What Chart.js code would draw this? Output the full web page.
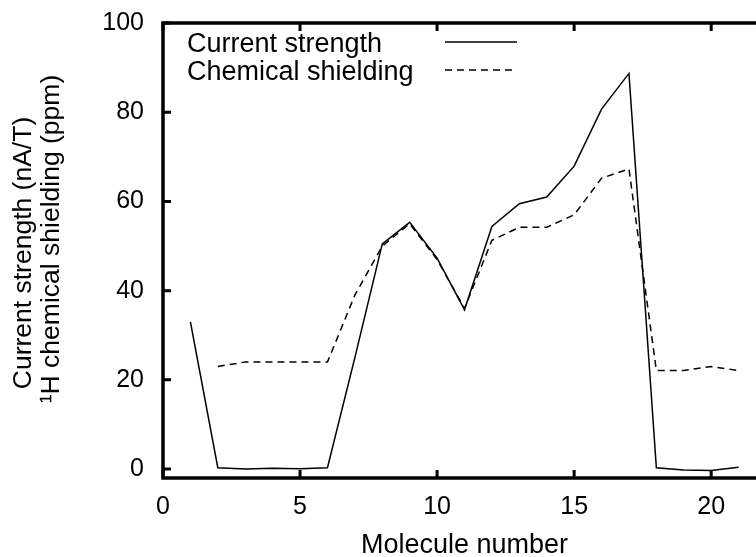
<!DOCTYPE html>
<html>
<head>
<meta charset="utf-8">
<script src="https://cdn.jsdelivr.net/npm/chart.js@4"></script>
<style>
  html, body { margin: 0; padding: 0; background: #fff; overflow: hidden; }
  #wrap { width: 776px; height: 557px; position: relative; }
</style>
</head>
<body>
<div id="wrap"><canvas id="chart"></canvas></div>
<script>
/* valores */
const molecules = [1, 2, 3, 4, 5, 6, 7, 8, 9, 10, 11, 12, 13, 14, 15, 16, 17, 18, 19, 20, 21];
const currentStrength = [33, 0.3, 0, 0.2, 0.05, 0.3, 25, 50.5, 55.3, 47.3, 35.7, 54.4, 59.5, 61, 67.9, 80.7, 88.7, 0.3, -0.2, -0.3, 0.4];
const chemShielding   = [null, 23, 24, 24, 24, 24, 39, 50, 55, 47, 36, 51.3, 54.2, 54.2, 57, 65.2, 67.3, 22.1, 22.1, 23, 22.1];
const seriesLabels = ['Current strength', 'Chemical shielding'];
const xTicks = [0, 5, 10, 15, 20];
const yTicks = [0, 20, 40, 60, 80, 100];
const yTitle = ['Current strength (nA/T)', '\u00B9H chemical shielding (ppm)'];
const xTitle = 'Molecule number';

const FONT = 'Liberation Sans, Arial, Helvetica, sans-serif';
const TICK = 8;

const toPts = arr => molecules.map((m, i) => ({ x: m, y: arr[i] }));

/* moldura estilo gnuplot, ticks para dentro, legenda e título y */
const gnuplotFrame = {
  id: 'gnuplotFrame',
  afterDraw(chart) {
    const { ctx, chartArea: a, scales: { x, y } } = chart;
    ctx.save();
    ctx.strokeStyle = '#000';
    ctx.lineWidth = 3;
    x.ticks.forEach(t => {
      const px = x.getPixelForValue(t.value);
      ctx.beginPath();
      ctx.moveTo(px, a.bottom); ctx.lineTo(px, a.bottom - TICK);
      ctx.moveTo(px, a.top);    ctx.lineTo(px, a.top + TICK);
      ctx.stroke();
    });
    y.ticks.forEach(t => {
      const py = y.getPixelForValue(t.value);
      ctx.beginPath();
      ctx.moveTo(a.left, py);  ctx.lineTo(a.left + TICK, py);
      ctx.moveTo(a.right, py); ctx.lineTo(a.right - TICK, py);
      ctx.stroke();
    });
    ctx.lineWidth = 3.5;
    ctx.strokeRect(a.left, a.top, a.right - a.left, a.bottom - a.top);

    // legenda: texto à esquerda, amostra da linha à direita
    ctx.fillStyle = '#000';
    ctx.font = '27px ' + FONT;
    ctx.textAlign = 'left';
    ctx.textBaseline = 'alphabetic';
    const rows = [{ base: 52, ly: 42 }, { base: 80, ly: 70 }];
    chart.data.datasets.forEach((ds, i) => {
      ctx.fillText(ds.label, 187, rows[i].base);
      ctx.lineWidth = ds.borderWidth;
      ctx.setLineDash(ds.borderDash || []);
      ctx.beginPath();
      ctx.moveTo(445, rows[i].ly); ctx.lineTo(517, rows[i].ly);
      ctx.stroke();
    });
    ctx.setLineDash([]);

    // título do eixo y em duas linhas (girado)
    ctx.font = '26.5px ' + FONT;
    ctx.rotate(-Math.PI / 2);
    ctx.textAlign = 'center';
    ctx.fillText(yTitle[0], -253, 31);
    ctx.fillText(yTitle[1], -239, 59);
    ctx.restore();
  }
};

new Chart(document.getElementById('chart'), {
  type: 'line',
  data: {
    datasets: [
      {
        label: seriesLabels[0],
        data: toPts(currentStrength),
        borderColor: '#000',
        borderWidth: 1.5,
        pointRadius: 0,
        tension: 0,
        fill: false,
      },
      {
        label: seriesLabels[1],
        data: toPts(chemShielding),
        borderColor: '#000',
        borderWidth: 1.5,
        borderDash: [7, 5],
        pointRadius: 0,
        tension: 0,
        fill: false,
      },
    ],
  },
  options: {
    responsive: true,
    maintainAspectRatio: false,
    animation: false,
    layout: { padding: { top: 23, right: 10, left: 0, bottom: 0 } },
    plugins: { legend: { display: false }, tooltip: { enabled: false } },
    scales: {
      x: {
        type: 'linear',
        min: 0,
        max: 22,
        grid: { display: false, drawTicks: false },
        border: { display: false },
        afterBuildTicks: s => { s.ticks = xTicks.map(v => ({ value: v })); },
        afterFit: s => { s.height = 79; s.paddingLeft = 0; s.paddingRight = 0; },
        ticks: { color: '#000', padding: 14, font: { family: FONT, size: 25 } },
        title: {
          display: true,
          text: xTitle,
          color: '#000',
          padding: 0,
          font: { family: FONT, size: 27, lineHeight: 0.85 },
        },
      },
      y: {
        min: -2,
        max: 100,
        grid: { display: false, drawTicks: false },
        border: { display: false },
        afterBuildTicks: s => { s.ticks = yTicks.map(v => ({ value: v })); },
        afterFit: s => { s.width = 163; s.paddingTop = 0; s.paddingBottom = 0; },
        ticks: { color: '#000', padding: 19, font: { family: FONT, size: 25 } },
      },
    },
  },
  plugins: [gnuplotFrame],
});
</script>
</body>
</html>
